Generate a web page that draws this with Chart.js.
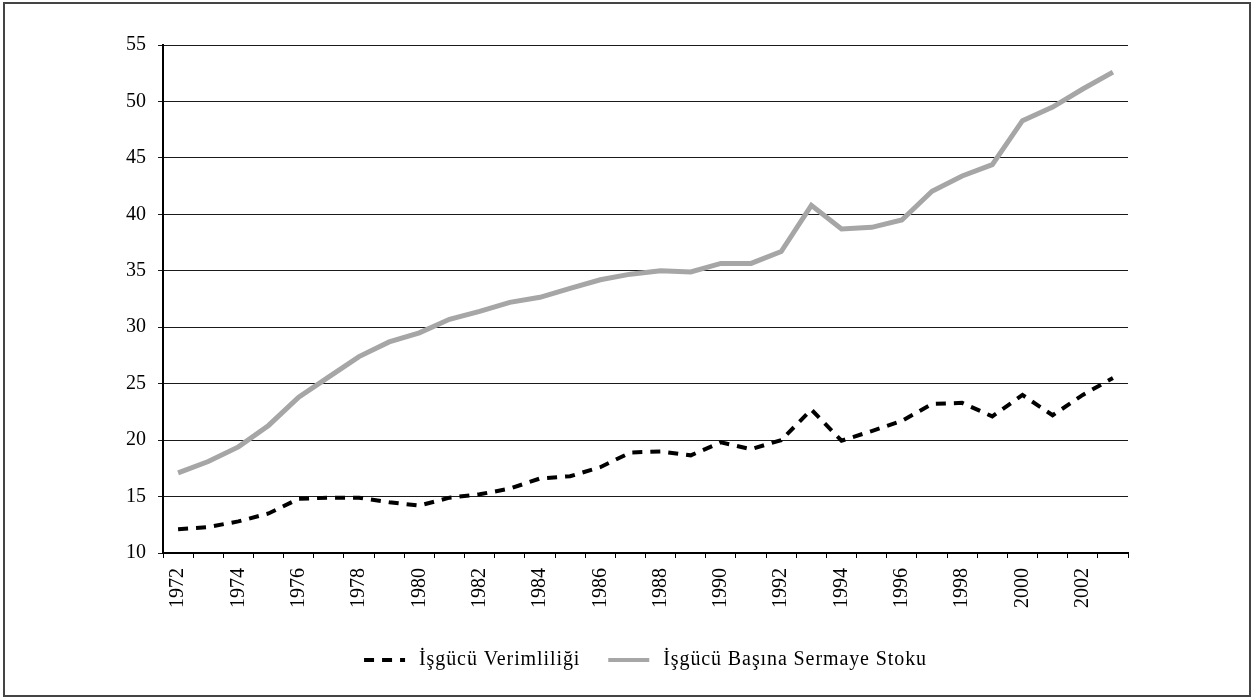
<!DOCTYPE html>
<html>
<head>
<meta charset="utf-8">
<script src="https://cdn.jsdelivr.net/npm/chart.js@4/dist/chart.umd.min.js"></script>
<style>
  html, body { margin: 0; padding: 0; background: #fff; }
  canvas { display: block; }
</style>
</head>
<body>
<canvas id="myChart" width="1257" height="699"></canvas>
<script>
// years on the x axis, 1972 - 2003
const years = ['1972','1973','1974','1975','1976','1977','1978','1979','1980','1981','1982',
  '1983','1984','1985','1986','1987','1988','1989','1990','1991','1992','1993','1994',
  '1995','1996','1997','1998','1999','2000','2001','2002','2003'];

// İşgücü Verimliliği (black dashed)
const verimlilik = [12.1, 12.3, 12.8, 13.5, 14.8, 14.9, 14.9, 14.5, 14.2, 14.9, 15.2,
  15.7, 16.6, 16.8, 17.6, 18.9, 19.0, 18.65, 19.8, 19.2, 20.0, 22.7, 19.95,
  20.8, 21.7, 23.2, 23.3, 22.1, 24.0, 22.2, 24.0, 25.5];

// İşgücü Başına Sermaye Stoku (grey)
const sermaye = [17.1, 18.1, 19.4, 21.3, 23.8, 25.6, 27.4, 28.7, 29.5, 30.7, 31.4,
  32.2, 32.65, 33.45, 34.2, 34.7, 35.0, 34.9, 35.65, 35.65, 36.7, 40.8, 38.7,
  38.85, 39.5, 42.05, 43.4, 44.4, 48.3, 49.5, 51.1, 52.6];

const yTicks = { min: 10, max: 55, step: 5 };

const serif = "'Liberation Serif', 'DejaVu Serif', serif";

// white background, outer frame, and a hand drawn legend
// (the built-in 'line' point style closes its path, so dashes come out solid)
const framePlugin = {
  id: 'frame',
  beforeDraw(chart) {
    const c = chart.ctx;
    c.save();
    c.fillStyle = '#fff';
    c.fillRect(0, 0, chart.width, chart.height);
    c.restore();
  },
  afterDraw(chart) {
    const c = chart.ctx;
    c.save();
    c.strokeStyle = '#444';
    c.lineWidth = 2;
    c.strokeRect(4, 3, 1246, 693);

    // legend
    const sets = chart.data.datasets;
    const lineW = 41, textGap = 14, itemGap = 28, y = 660;
    c.font = '20px ' + serif;
    if ('letterSpacing' in c) c.letterSpacing = '0.9px';
    c.textBaseline = 'middle';
    c.fillStyle = '#000';
    const widths = sets.map(ds => c.measureText(ds.label).width);
    let total = 0;
    widths.forEach((w, i) => { total += lineW + textGap + w + (i ? itemGap : 0); });
    const area = chart.chartArea;
    let x = (area.left + area.right) / 2 - total / 2;
    sets.forEach((ds, i) => {
      c.beginPath();
      c.setLineDash(ds.borderDash || []);
      c.lineWidth = i === 0 ? 4 : 4;
      c.strokeStyle = ds.borderColor;
      c.moveTo(x, y);
      c.lineTo(x + lineW, y);
      c.stroke();
      c.setLineDash([]);
      c.fillText(ds.label, x + lineW + textGap, y);
      x += lineW + textGap + widths[i] + itemGap;
    });
    c.restore();
  }
};

const ctx = document.getElementById('myChart').getContext('2d');
const myChart = new Chart(ctx, {
  type: 'line',
  data: {
    labels: years,
    datasets: [{
      label: 'İşgücü Verimliliği',
      data: verimlilik,
      borderColor: '#000',
      backgroundColor: '#000',
      borderWidth: 4,
      borderDash: [10, 8],
      pointRadius: 0,
      tension: 0,
      fill: false
    }, {
      label: 'İşgücü Başına Sermaye Stoku',
      data: sermaye,
      borderColor: '#a6a6a6',
      backgroundColor: '#a6a6a6',
      borderWidth: 5,
      pointRadius: 0,
      tension: 0,
      fill: false
    }]
  },
  options: {
    responsive: false,
    animation: false,
    layout: { padding: { top: 45, right: 129, bottom: 66, left: 0 } },
    plugins: {
      tooltip: { enabled: false },
      legend: { display: false }
    },
    scales: {
      x: {
        offset: true,
        grid: {
          offset: true,
          drawOnChartArea: false,
          drawTicks: true,
          tickLength: 5,
          color: '#000'
        },
        border: { color: '#000', width: 2 },
        ticks: {
          autoSkip: false,
          minRotation: 90,
          maxRotation: 90,
          padding: 10,
          color: '#000',
          font: { family: serif, size: 20 },
          callback: function(val, i) { return i % 2 === 0 ? this.getLabelForValue(val) : ''; }
        },
        afterFit(scale) { scale.height = 80; }
      },
      y: {
        min: yTicks.min,
        max: yTicks.max,
        grid: { color: '#1a1a1a', lineWidth: 1, tickLength: 5 },
        border: { color: '#000', width: 2 },
        ticks: {
          stepSize: yTicks.step,
          padding: 12,
          color: '#000',
          font: { family: serif, size: 20 }
        },
        afterFit(scale) { scale.width = 163; }
      }
    }
  },
  plugins: [framePlugin]
});
</script>
</body>
</html>
